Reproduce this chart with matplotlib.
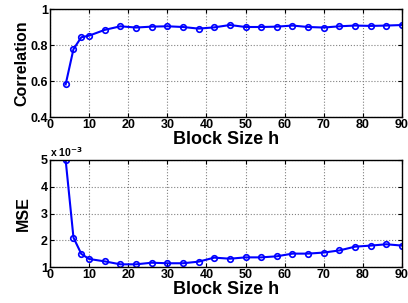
import matplotlib
matplotlib.use("Agg")
import matplotlib.pyplot as plt

# data
block_size = [4, 6, 8, 10, 14, 18, 22, 26, 30, 34, 38, 42, 46, 50,
              54, 58, 62, 66, 70, 74, 78, 82, 86, 90]
correlation = [0.581, 0.777, 0.843, 0.852, 0.884, 0.904, 0.897, 0.902,
               0.904, 0.900, 0.891, 0.898, 0.911, 0.900, 0.900, 0.902,
               0.908, 0.900, 0.897, 0.904, 0.908, 0.906, 0.908, 0.911]
mse_e3 = [5.0, 2.1, 1.49, 1.3, 1.21, 1.1, 1.1, 1.16, 1.14, 1.14, 1.2,
          1.35, 1.31, 1.36, 1.36, 1.4, 1.5, 1.5, 1.54, 1.62, 1.76, 1.8,
          1.85, 1.8]

plt.rcParams["font.family"] = ["Liberation Sans", "DejaVu Sans"]
plt.rcParams["font.weight"] = "bold"

fig = plt.figure(figsize=(4.08, 3.03), dpi=100)
ax1 = fig.add_axes([50 / 408, 1 - 117 / 303, 352 / 408, 108 / 303])
ax2 = fig.add_axes([50 / 408, 1 - 267 / 303, 352 / 408, 107 / 303])

line_kw = dict(color="#0000ff", linewidth=1.5, marker="o", markersize=4,
               markerfacecolor="none", markeredgewidth=1.2)


def style(ax):
    ax.set_xlim(0, 90)
    ax.set_xticks(range(0, 91, 10))
    ax.grid(True, linestyle=":", color="#808080", linewidth=0.8)
    ax.tick_params(direction="in", labelsize=9, length=3, top=True, right=True, pad=1.5)
    for lab in ax.get_xticklabels() + ax.get_yticklabels():
        lab.set_fontweight("bold")
    for s in ax.spines.values():
        s.set_linewidth(1.0)
    ax.set_xlabel("Block Size h", fontsize=13, fontweight="bold", labelpad=0)


ax1.plot(block_size, correlation, **line_kw)
ax1.set_ylim(0.4, 1.0)
ax1.set_yticks([0.4, 0.6, 0.8, 1.0])
ax1.set_yticklabels(["0.4", "0.6", "0.8", "1"])
ax1.set_ylabel("Correlation", fontsize=11.5, fontweight="bold", labelpad=1)
style(ax1)

ax2.plot(block_size, mse_e3, **line_kw)
ax2.set_ylim(1, 5)
ax2.set_yticks([1, 2, 3, 4, 5])
ax2.set_ylabel("MSE", fontsize=11.5, fontweight="bold", labelpad=7)
style(ax2)
ax2.text(0.0, 1.01, "x 10$^{-3}$", transform=ax2.transAxes, fontsize=7.5,
         fontweight="bold", ha="left", va="bottom")

fig.savefig("out.png", dpi=100, facecolor="white")
